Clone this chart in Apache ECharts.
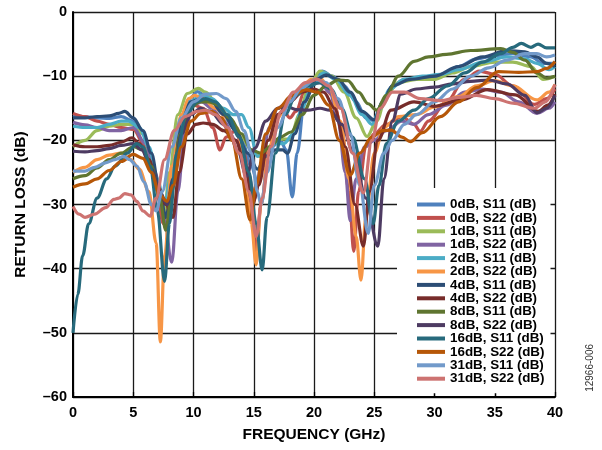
<!DOCTYPE html>
<html>
<head>
<meta charset="utf-8">
<script src="https://cdn.jsdelivr.net/npm/echarts@6/dist/echarts.min.js"></script>
<style>html,body{margin:0;padding:0;background:#fff;}#c{width:602px;height:450px;}</style>
</head>
<body>
<div id="c"></div>
<script>
var xTicks = [0, 5, 10, 15, 20, 25, 30, 35, 40];
var yTicks = [0, -10, -20, -30, -40, -50, -60];
var seriesNames = ['0dB, S11 (dB)','0dB, S22 (dB)','1dB, S11 (dB)','1dB, S22 (dB)','2dB, S11 (dB)','2dB, S22 (dB)','4dB, S11 (dB)','4dB, S22 (dB)','8dB, S11 (dB)','8dB, S22 (dB)','16dB, S11 (dB)','16dB, S22 (dB)','31dB, S11 (dB)','31dB, S22 (dB)'];
var seriesColors = ['#4F81BD','#C0504D','#9BBB59','#8064A2','#4BACC6','#F79646','#2C4D75','#772C2A','#5F7530','#4D3B62','#276A7C','#B65708','#729ACA','#CD7371'];

var s0dB_S11 = [[0,-16.1],[1,-16.3],[2,-16.5],[3,-16.6],[4,-16.3],[5,-17],[5.8,-19],[6.5,-23],[7.3,-30],[7.8,-33],[8.3,-27],[9,-17],[9.7,-13.5],[10.3,-12.4],[11,-13],[12,-14.5],[13,-17],[14,-20],[14.8,-24],[15.3,-26.5],[15.8,-24],[16.5,-21],[17.2,-20],[17.7,-21.5],[18.2,-28.8],[18.6,-22],[19.2,-14],[20,-10.5],[20.7,-9.2],[21.5,-10],[22.5,-11.5],[23.5,-14],[24.3,-16.5],[25,-17],[25.7,-14],[26.5,-11.5],[27.5,-10.5],[29,-10.3],[30.5,-10],[32,-8.5],[33.5,-7.3],[35,-6.8],[36.5,-6.5],[38,-7],[39,-8],[40,-8]];
var s0dB_S22 = [[0,-15.8],[1,-16.3],[2,-17],[3,-17.5],[4,-18],[5,-18.3],[6,-21],[6.8,-26],[7.5,-33],[8,-30],[8.6,-22],[9.3,-16.5],[10,-14.5],[10.8,-15],[11.6,-18],[12.2,-21.5],[12.7,-19.5],[13.5,-18.5],[14.2,-22],[14.8,-30],[15.2,-37.5],[15.6,-30],[16.3,-21],[17,-16],[17.5,-15.5],[18,-16.5],[18.5,-15.5],[19.2,-12.5],[20,-11],[20.7,-11],[21.5,-13],[22.3,-18],[22.9,-28],[23.3,-37.3],[23.7,-28],[24.3,-21],[25,-19],[26,-17.5],[27.3,-16.3],[28.3,-17.5],[28.8,-18.6],[29.5,-17],[31,-14],[32.5,-10.5],[33.7,-9.2],[35,-9.7],[36.5,-11.5],[38.3,-14.4],[39.3,-13.5],[40,-12]];
var s1dB_S11 = [[0,-21],[1,-20],[2,-18.5],[3,-17.8],[4,-17.5],[5,-17.5],[5.8,-19],[6.5,-23],[7.2,-29],[7.6,-31],[8,-25],[8.7,-16],[9.5,-12.7],[10.4,-11.9],[11,-12.5],[12,-14.5],[13,-17],[14,-19.5],[14.8,-21.5],[15.5,-22.5],[16.2,-21],[17,-19.8],[18,-19.8],[18.8,-16],[19.5,-12],[20.5,-9.2],[21.5,-10],[22.5,-12.5],[23.5,-16.5],[24.4,-19.4],[25.2,-17],[26,-13],[27,-11],[28.5,-10.5],[30,-10.5],[31.5,-9.5],[33,-8.5],[35,-7.8],[36.5,-7.8],[38,-8.5],[39,-10.5],[40,-10]];
var s1dB_S22 = [[0,-17.2],[1,-17.6],[2,-18],[3,-18.5],[4,-18.5],[5,-18],[6,-20.5],[6.8,-25],[7.5,-31],[8.2,-39],[8.7,-28],[9.3,-18],[10,-14.5],[10.7,-14],[11.5,-15],[12.5,-17],[13.5,-20],[14.5,-25],[15.1,-29],[15.6,-24],[16.3,-18],[17,-15],[17.5,-14.5],[18.5,-13],[19.5,-11.5],[20.5,-11],[21.3,-12.5],[22,-17],[22.6,-25],[23,-32.5],[23.5,-26],[24.2,-21],[25,-20],[26,-18.5],[27.3,-17],[28.3,-17.5],[29.5,-16],[31,-14.5],[32.5,-12.5],[34,-12],[35.5,-12.5],[37,-14],[38.5,-15.8],[39.5,-15],[40,-14]];
var s2dB_S11 = [[0,-17.8],[1,-18],[2,-18],[3,-17.5],[4,-17],[4.6,-17],[5.5,-18],[6.3,-21],[7,-26],[7.6,-30],[8.1,-26],[8.8,-18],[9.7,-14],[10.6,-13],[11.5,-13.5],[12.5,-15],[13.3,-16],[14,-16],[14.6,-18],[15.3,-22.5],[16,-21.5],[16.7,-20.5],[17.5,-20.5],[18.3,-19],[19,-15],[19.8,-11.5],[20.8,-9.5],[21.8,-10.5],[23,-13],[24,-16],[24.8,-17.5],[25.5,-15],[26.3,-12],[27.5,-10.5],[29,-10],[30.5,-9.7],[32,-9],[34,-7.8],[36,-7],[37.5,-7.3],[38.5,-8],[39.5,-9],[40,-8.5]];
var s2dB_S22 = [[0,-25],[1,-24.2],[2,-23],[3,-22.3],[4,-22],[4.8,-23],[5.5,-24.5],[6.3,-28],[6.9,-36],[7.25,-51.4],[7.6,-38],[8.2,-24],[9,-16],[9.6,-13.5],[10.1,-13],[10.8,-13.5],[11.8,-15],[12.8,-16.5],[13.6,-18],[14.3,-24],[14.8,-33],[15.2,-39.4],[15.6,-30],[16.3,-21],[17,-16.5],[17.8,-14],[18.8,-12],[19.8,-10.5],[20.5,-10.3],[21.3,-12],[22.2,-17],[22.9,-26],[23.5,-35],[23.9,-41.8],[24.3,-32],[25,-22],[25.8,-18],[27,-16.3],[28.5,-16],[30,-14.8],[32,-13.2],[33.5,-11.5],[35,-10.7],[36.5,-11.5],[38.5,-13.7],[39.5,-12.5],[40,-11.3]];
var s4dB_S11 = [[0,-16.5],[1,-16.5],[2,-16.3],[3,-16.2],[3.8,-15.8],[4.3,-15.5],[5,-16.5],[5.8,-18.5],[6.5,-22],[7.2,-28],[7.7,-32],[8.3,-26],[9,-17],[9.8,-14],[10.6,-13.5],[11.5,-14],[12.5,-16],[13.5,-18.5],[14.5,-22],[15.3,-24.5],[16,-22.5],[16.8,-21.5],[17.4,-21.5],[17.8,-22],[18.4,-19],[19.2,-14],[20.2,-10.5],[21,-9.8],[22,-10.5],[23,-12.5],[24,-15.5],[25,-16.8],[25.7,-14],[26.5,-11.5],[28,-10.5],[30,-10],[32,-8.5],[34,-7],[36,-6],[37.5,-6.2],[38.5,-7],[39.3,-8],[40,-8.5]];
var s4dB_S22 = [[0,-20.7],[1,-21],[2,-21],[3,-20.8],[4,-20.3],[4.9,-19.6],[5.5,-20.5],[6.3,-23],[7,-27],[7.7,-30],[8.3,-32],[8.8,-25],[9.5,-19],[10.2,-17.5],[10.8,-17.3],[11.6,-17.5],[12.5,-18.5],[13.5,-20],[14.3,-24],[14.9,-30],[15.4,-27],[16.2,-20],[17,-16],[18,-14],[19,-12.5],[20,-12],[20.8,-12.5],[21.7,-15],[22.6,-21],[23.4,-30],[24.1,-36.5],[24.6,-28],[25.3,-20],[26.4,-15.3],[28.3,-14],[30,-14.7],[32.2,-13.7],[34.4,-12.1],[36.7,-12.9],[38.6,-15.5],[39.4,-14.5],[40,-12.8]];
var s8dB_S11 = [[0,-26],[1,-25.5],[2,-24.3],[3,-23],[4,-22],[5,-21],[5.8,-21.5],[6.5,-24],[7.2,-29],[7.7,-34],[8.2,-28],[8.9,-19],[9.7,-15],[10.5,-14],[11.3,-14],[12,-14.5],[13,-16.5],[14,-19],[14.8,-21.5],[15.6,-22],[16.4,-21],[17.2,-19.5],[18.1,-18.7],[19,-16],[20,-13],[21,-11.5],[22,-10.6],[22.8,-10.7],[23.7,-12.5],[24.5,-14.3],[25.2,-15.3],[26,-13],[27,-10],[28.3,-7.7],[29.5,-7],[31,-6.6],[33,-6],[35.5,-5.7],[36.5,-6.3],[37.5,-7.5],[38.5,-9.5],[39.3,-10.3],[40,-10]];
var s8dB_S22 = [[0,-21.7],[1,-21.8],[2,-21.6],[3,-21.3],[4,-20.8],[5,-20.5],[5.7,-21.5],[6.5,-24.5],[7.2,-28],[7.8,-30],[8.3,-27],[9,-19],[9.8,-16],[10.6,-15],[11.4,-15.5],[12.5,-17.5],[13.1,-19.5],[13.7,-21.8],[14.4,-25.6],[15.1,-21.2],[16,-17],[17,-15],[17.7,-14.7],[18.5,-15.2],[19.5,-15.3],[20.5,-15],[21.3,-15.3],[22.3,-17.5],[23.3,-22],[24.3,-29],[25.3,-36.5],[25.8,-26],[26.5,-17],[27.2,-12.8],[28.5,-12],[30,-11.7],[31.5,-11.2],[33,-10.8],[34.5,-10.6],[36,-11.2],[37.5,-13],[38.5,-15.7],[39.3,-15],[40,-13]];
var s16dB_S11 = [[0,-50],[0.4,-44],[0.8,-38],[1.3,-33],[2,-29],[2.8,-26],[3.5,-24],[4.5,-22],[5.3,-20.5],[5.8,-21],[6.4,-24],[7,-31],[7.6,-42],[8,-33],[8.6,-22],[9.4,-16],[10.3,-14],[11,-13.5],[11.8,-14],[12.8,-16],[13.8,-19.5],[14.6,-25],[15.2,-33],[15.7,-40.2],[16.1,-32],[16.8,-22],[17.6,-16],[18.5,-13],[19.5,-11.5],[20.5,-11],[21.4,-12],[22.3,-15],[23.2,-19.5],[24.2,-26],[24.9,-33],[25.4,-27],[26,-20.5],[27,-17],[28.3,-15.3],[29.5,-13.5],[31.1,-11.5],[32.5,-9.5],[34,-7.8],[35.5,-6.5],[36.5,-5.5],[37.2,-4.9],[38,-5.5],[38.6,-5],[39.3,-5.6],[40,-5.6]];
var s16dB_S22 = [[0,-27.3],[1,-26.8],[2,-26],[3,-24.7],[4,-23.3],[5,-22.2],[5.8,-22.8],[6.5,-25],[7.2,-28.5],[7.8,-29.5],[8.3,-27],[9,-21],[9.8,-17],[10.6,-15.8],[11.5,-15.5],[12.3,-16.5],[13.2,-20],[14,-26],[14.7,-32.4],[15.2,-27],[16,-19],[17,-15],[18.2,-13],[19.3,-12.1],[20.3,-12.5],[21.2,-14.5],[22.1,-20],[23,-25.4],[23.8,-22],[24.8,-19.5],[25.7,-18.5],[26.4,-18.4],[27.3,-19.5],[28,-20.2],[29,-18.8],[30.5,-16.3],[32,-14],[33.5,-11.8],[35.3,-9.3],[37,-9.4],[38.5,-9.3],[39.3,-8.8],[40,-7.7]];
var s31dB_S11 = [[0,-24.8],[1,-24.8],[1.8,-24.2],[2.7,-23.5],[3.5,-23],[4.2,-22.5],[4.7,-23],[5.3,-24],[5.9,-26.5],[6.5,-30],[6.9,-31],[7.4,-28],[8.2,-21],[9,-16.5],[10,-14],[11,-12.8],[11.9,-12.7],[12.7,-13.5],[13.5,-15.5],[14.2,-18.5],[14.8,-22],[15.3,-28],[15.6,-30],[16.1,-25],[17,-18],[18,-14],[19,-11.8],[20.1,-10.5],[21,-11],[22,-13.5],[23,-19],[23.8,-27],[24.5,-34.5],[25,-27],[25.8,-22],[26.5,-20],[27.5,-17.5],[28.5,-16],[30,-14],[31.5,-12],[33,-10],[34.5,-8.7],[36,-7.5],[37.5,-6.5],[38.5,-6.5],[39.3,-7],[40,-6.7]];
var s31dB_S22 = [[0,-30.3],[0.5,-31.5],[1,-32],[1.8,-31.5],[2.7,-30.5],[3.4,-29.2],[3.8,-29],[4.3,-28.3],[4.8,-28.5],[5.3,-29.5],[5.8,-31],[6.4,-31.8],[6.9,-29],[7.6,-23],[8.4,-18.5],[9.3,-16.3],[10.3,-15.5],[11,-15.3],[11.8,-16],[12.8,-18],[13.8,-22],[14.6,-28],[15.2,-35],[15.7,-29],[16.4,-21],[17.3,-15.5],[18.3,-12.5],[19.3,-11],[20.3,-10.5],[21.2,-11.5],[22.2,-15],[23.2,-22],[24.1,-28.2],[24.8,-20],[25.5,-15],[26.5,-12.5],[27.5,-12.5],[28.8,-13.5],[30.5,-13.8],[32,-13.3],[33.5,-13],[35,-13.5],[36.5,-14.2],[38.3,-15],[39.2,-14],[40,-11.3]];

var seriesData = [s0dB_S11,s0dB_S22,s1dB_S11,s1dB_S22,s2dB_S11,s2dB_S22,s4dB_S11,s4dB_S22,s8dB_S11,s8dB_S22,s16dB_S11,s16dB_S22,s31dB_S11,s31dB_S22];

var FONT = 'Liberation Sans, Arial, sans-serif';
var chart = echarts.init(document.getElementById('c'), null, {renderer: 'canvas'});
var series = seriesData.map(function (d, i) {
  return {
    name: seriesNames[i], type: 'line', data: d, smooth: 0.35, smoothMonotone: 'x',
    showSymbol: false, symbol: 'none',
    lineStyle: {color: seriesColors[i], width: 3.2},
    itemStyle: {color: seriesColors[i]}
  };
});
chart.setOption({
  animation: false,
  backgroundColor: '#fff',
  grid: {left: 73, right: 47, top: 12, bottom: 53, containLabel: false},
  xAxis: {
    type: 'value', min: xTicks[0], max: xTicks[xTicks.length - 1], interval: 5,
    name: 'FREQUENCY (GHz)', nameLocation: 'middle', nameGap: 30,
    nameTextStyle: {fontFamily: FONT, fontWeight: 'bold', fontSize: 15.5, color: '#000'},
    axisLine: {show: true, onZero: false, lineStyle: {color: '#000', width: 2}},
    axisTick: {show: true, inside: true, length: 5, lineStyle: {color: '#000', width: 1.3}},
    axisLabel: {fontFamily: FONT, fontWeight: 'bold', fontSize: 14.5, color: '#000', margin: 8},
    splitLine: {show: true, lineStyle: {color: '#1a1a1a', width: 1.3}}
  },
  yAxis: {
    type: 'value', min: yTicks[yTicks.length - 1], max: yTicks[0], interval: 10,
    name: 'RETURN LOSS (dB)', nameLocation: 'middle', nameGap: 44,
    nameTextStyle: {fontFamily: FONT, fontWeight: 'bold', fontSize: 15.5, color: '#000'},
    axisLine: {show: true, lineStyle: {color: '#000', width: 2}},
    axisTick: {show: false},
    axisLabel: {fontFamily: FONT, fontWeight: 'bold', fontSize: 14.5, color: '#000', margin: 6,
      formatter: function (v) { return v < 0 ? '\u2013' + Math.abs(v) : String(v); }},
    splitLine: {show: true, lineStyle: {color: '#1a1a1a', width: 1.3}}
  },
  legend: {
    orient: 'vertical', left: 397, top: 188,
    backgroundColor: '#fff', padding: [10, 6, 8, 20],
    itemWidth: 28, itemHeight: 4, itemGap: 0.4, icon: 'rect',
    textStyle: {fontFamily: FONT, fontWeight: 'bold', fontSize: 13.4, color: '#000', lineHeight: 13},
    data: seriesNames
  },
  graphic: [{
    type: 'text', left: 585, top: 344, rotation: Math.PI / 2,
    style: {text: '12966-006', font: '10px ' + FONT, fill: '#333'}
  }],
  series: series
});
</script>
</body>
</html>
